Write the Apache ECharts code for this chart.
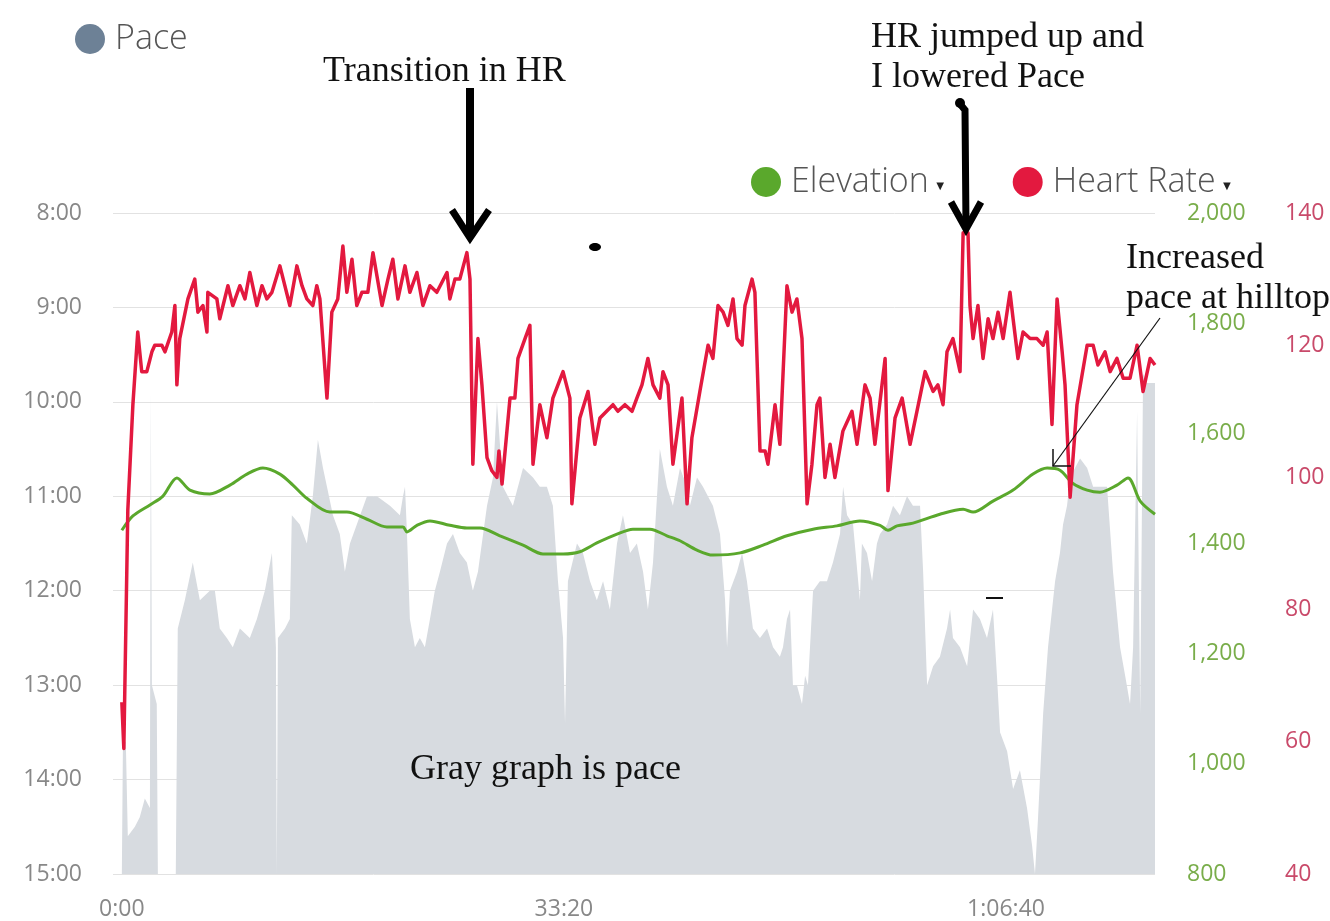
<!DOCTYPE html>
<html>
<head>
<meta charset="utf-8">
<title>Pace, Elevation and Heart Rate</title>
<script src="https://cdn.jsdelivr.net/npm/echarts@6/dist/echarts.min.js"></script>
<style>
  html, body { margin: 0; padding: 0; background: #fff; }
  #chart { width: 1330px; height: 921px; }
</style>
</head>
<body>
<div id="chart"></div>
<script>
// time in seconds
const hrData = [
  [0,66],[9,59],[27,95],[50,111],[72,122],[90,116],[113,116],[136,119],[149,120],[181,120],
  [195,119],[226,122],[240,126],[249,114],[262,121],[299,127],[330,130],[344,125],[367,126],[385,122],
  [389,128],[430,127],[443,124],[480,129],[502,126],[534,129],[557,127],[579,131],[611,126],[634,129],
  [656,127],[679,128],[715,132],[760,126],[792,132],[815,129],[837,127],[864,126],[882,129],[896,127],
  [928,112],[950,125],[977,127],[1000,135],[1018,128],[1041,133],[1063,126],[1086,128],[1113,128],[1136,134],
  [1177,126],[1204,130],[1226,133],[1249,127],[1281,132],[1303,128],[1335,131],[1362,126],[1394,129],[1425,128],
  [1471,131],[1484,127],[1507,130],[1529,130],[1561,134],[1575,130],
  [1588,102],[1611,121],[1629,114],[1652,103],[1674,101],[1697,100],[1706,104],[1720,99],[1756,112],[1778,112],
  [1792,118],[1824,121],[1846,123],[1860,102],[1891,111],[1923,106],[1950,112],[1996,116],[2027,112],[2036,96],
  [2072,109],[2109,113],[2140,105],[2163,109],[2222,111],[2244,110],[2276,111],[2308,110],[2330,112],[2353,114],
  [2380,118],[2403,114],[2434,112],[2448,116],[2471,114],[2493,102],[2534,112],[2557,96],[2579,106],[2615,113],
  [2652,120],[2674,118],[2697,126],[2720,125],[2742,123],[2765,127],[2783,121],[2806,120],[2819,126],[2851,130],
  [2864,128],[2887,104],[2910,104],[2923,102],[2955,111],[2977,105],[3009,129],[3032,125],[3054,127],[3077,121],
  [3100,96],[3122,102],[3145,111],
  [3158,112],[3181,100],[3204,105],[3226,100],[3262,107],[3303,110],[3326,105],[3362,114],[3385,112],[3407,105],
  [3453,118],[3466,98],[3498,109],[3530,112],[3566,105],[3597,110],[3634,116],[3670,113],[3692,114],[3715,111],
  [3733,119],[3760,121],[3792,116],[3806,137],[3828,137],[3837,126],[3851,121],[3873,126],[3896,118],[3919,124],
  [3941,121],[3964,125],[3987,121],[4018,128],[4032,124],[4054,118],[4077,122],[4109,121],[4140,121],[4168,120],
  [4186,122],[4208,108],[4231,127],[4254,119],[4267,114],[4290,97],[4321,111],[4367,120],[4394,120],[4416,117],
  [4448,119],[4471,116],[4502,118],[4530,115],[4561,115],[4593,120],[4620,113],[4652,118],[4674,117]
];

const elevationData = [
  [0,1424],[50,1450],[127,1470],[186,1486],[249,1519],[308,1497],[398,1490],[489,1506],[566,1526],[638,1537],
  [715,1526],[774,1506],[837,1482],[941,1457],[1018,1457],[1109,1444],[1199,1430],[1272,1430],[1290,1421],[1335,1433],
  [1394,1441],[1484,1433],[1561,1428],[1620,1428],[1710,1414],[1815,1397],[1905,1381],[1996,1381],[2072,1385],[2149,1401],
  [2240,1417],[2312,1426],[2389,1426],[2466,1414],[2525,1405],[2602,1388],[2674,1379],[2797,1383],[2901,1397],[3009,1414],
  [3127,1426],[3235,1432],[3339,1441],[3430,1433],[3466,1424],[3507,1432],[3579,1437],[3701,1453],[3806,1462],[3851,1457],
  [3941,1477],[4032,1497],[4122,1526],[4186,1537],[4244,1533],[4303,1509],[4367,1497],[4425,1493],[4502,1506],[4552,1519],
  [4607,1477],[4674,1453]
];

// pace in minutes per mile
const paceData = [
  [0,15.0],[5,13.6],[18,13.6],[27,14.6],[59,14.5],[81,14.4],[104,14.2],[127,14.3],[131,9.9],[136,13.0],
  [158,13.2],[163,15.0],[244,15.0],[253,12.4],[285,12.1],[321,11.7],[353,12.1],[398,12.0],[421,12.0],[443,12.4],
  [475,12.5],[502,12.6],[534,12.4],[579,12.5],[611,12.3],[647,12.0],[679,11.6],[697,12.6],[701,15.0],[706,12.5],
  [738,12.4],[760,12.3],[769,11.2],[805,11.3],[837,11.5],[864,11.0],[887,10.4],[910,10.7],[928,10.9],[955,11.2],
  [986,11.4],[1009,11.8],[1032,11.5],[1063,11.3],[1109,11.0],[1154,11.0],[1213,11.1],[1258,11.2],[1272,11.0],[1281,10.9],
  [1290,11.4],[1303,12.3],[1326,12.6],[1348,12.5],[1371,12.6],[1394,12.3],[1416,12.0],[1439,11.8],[1471,11.5],[1498,11.4],
  [1529,11.6],[1561,11.7],[1588,12.0],[1611,11.8],[1652,11.1],[1679,10.8],[1697,10.0],[1724,10.9],[1769,11.1],[1815,10.7],
  [1860,10.8],[1891,10.9],[1923,10.9],[1950,11.1],[1973,11.9],[1996,12.5],[2005,13.4],[2018,11.9],[2059,11.5],[2086,11.6],
  [2118,11.9],[2149,12.1],[2177,11.9],[2208,12.2],[2240,11.5],[2267,11.2],[2299,11.6],[2330,11.5],[2358,11.8],[2380,12.2],
  [2403,11.7],[2434,10.5],[2466,10.9],[2493,11.1],[2525,10.7],[2557,10.9],[2570,11.1],[2602,10.8],[2629,10.9],[2674,11.1],
  [2706,11.4],[2729,12.1],[2738,12.6],[2751,12.0],[2783,11.8],[2806,11.6],[2828,11.9],[2855,12.4],[2887,12.5],[2919,12.4],
  [2946,12.6],[2977,12.7],[2991,12.6],[3009,12.3],[3023,12.2],[3036,13.0],[3054,13.0],[3077,13.2],[3091,12.9],[3104,13.0],
  [3127,12.0],[3158,11.9],[3190,11.9],[3217,11.7],[3249,11.4],[3263,10.9],[3281,11.2],[3308,11.3],[3339,12.1],[3348,11.5],
  [3371,11.6],[3394,11.9],[3416,11.5],[3430,11.4],[3462,11.3],[3489,11.1],[3520,11.2],[3552,11.0],[3579,11.1],[3611,11.1],
  [3625,11.8],[3643,13.0],[3670,12.8],[3701,12.7],[3733,12.4],[3747,12.2],[3760,12.5],[3792,12.6],[3824,12.8],[3851,12.2],
  [3882,12.3],[3914,12.5],[3941,12.2],[3959,12.9],[3973,13.5],[4005,13.7],[4032,14.1],[4063,13.9],[4095,14.3],[4118,14.7],
  [4131,15.0],[4145,14.4],[4168,13.3],[4190,12.6],[4222,11.9],[4244,11.6],[4258,11.3],[4276,11.1],[4290,10.8],[4312,10.7],
  [4335,10.6],[4367,10.7],[4394,10.9],[4425,10.9],[4457,10.9],[4484,11.8],[4516,12.6],[4539,12.9],[4561,13.2],[4575,12.6],
  [4593,10.1],[4607,13.3],[4620,9.7],[4638,9.8],[4674,9.8]
];

const timeTicks = [0, 2000, 4000];

function fmtTime(s) {
  const h = Math.floor(s / 3600);
  const m = Math.floor((s % 3600) / 60);
  const sec = String(s % 60).padStart(2, '0');
  return h > 0 ? h + ':' + String(m).padStart(2, '0') + ':' + sec : m + ':' + sec;
}

const labelFont = 'Open Sans';
const noteFont = '36px "Liberation Serif", "Times New Roman", serif';

const chart = echarts.init(document.getElementById('chart'));
chart.setOption({
  animation: false,
  backgroundColor: '#fff',
  grid: { left: 113, right: 175, top: 213, bottom: 45 },
  legend: [
    {
      data: ['Pace'],
      left: 70, top: 17,
      icon: 'circle', itemWidth: 40, itemHeight: 30,
      textStyle: { fontSize: 34, fontFamily: labelFont, fontWeight: 300, color: '#555' }
    },
    {
      data: ['Elevation', 'Heart Rate'],
      left: 746, top: 160,
      icon: 'circle', itemWidth: 40, itemHeight: 30, itemGap: 66,
      formatter: n => n + '{t|▼}',
      textStyle: {
        fontSize: 34, fontFamily: labelFont, fontWeight: 300, color: '#555',
        rich: { t: { fontSize: 13, color: '#222', padding: [8, 0, 0, 5] } }
      }
    }
  ],
  xAxis: {
    type: 'value', min: -40, max: 4674,
    axisLine: { show: false }, axisTick: { show: false }, splitLine: { show: false },
    axisLabel: {
      customValues: timeTicks, formatter: fmtTime,
      color: '#888', fontSize: 23, fontFamily: labelFont, margin: 24
    }
  },
  yAxis: [
    {
      type: 'value', min: 8, max: 15, interval: 1, inverse: true, position: 'left',
      axisLine: { show: false }, axisTick: { show: false },
      axisLabel: { formatter: v => v + ':00', color: '#888', fontSize: 23, fontFamily: labelFont, margin: 31 },
      splitLine: { lineStyle: { color: '#e2e2e2', width: 1 } }
    },
    {
      type: 'value', min: 800, max: 2000, interval: 200, position: 'right',
      axisLine: { show: false }, axisTick: { show: false }, splitLine: { show: false },
      axisLabel: { formatter: v => v.toLocaleString('en-US'), color: '#79ad4a', fontSize: 23, fontFamily: labelFont, margin: 32 }
    },
    {
      type: 'value', min: 40, max: 140, interval: 20, position: 'right',
      axisLine: { show: false }, axisTick: { show: false }, splitLine: { show: false },
      axisLabel: { color: '#c94a6a', fontSize: 23, fontFamily: labelFont, margin: 130 }
    }
  ],
  series: [
    {
      name: 'Pace', type: 'line', yAxisIndex: 0, data: paceData,
      color: '#6d8196', showSymbol: false, symbol: 'none', z: 1,
      lineStyle: { width: 0 },
      areaStyle: { color: '#d7dbe0', opacity: 1, origin: 'end' }
    },
    {
      name: 'Elevation', type: 'line', yAxisIndex: 1, data: elevationData,
      color: '#5aa82c', showSymbol: false, symbol: 'none', smooth: 0.3, z: 3,
      lineStyle: { width: 3 }
    },
    {
      name: 'Heart Rate', type: 'line', yAxisIndex: 2, data: hrData,
      color: '#e3193f', showSymbol: false, symbol: 'none', z: 4,
      lineStyle: { width: 3.5, join: 'round' }
    }
  ],
  graphic: [
    // hand-drawn notes on top of the chart
    { type: 'text', z: 100, style: { text: 'Transition in HR', x: 323, y: 72, font: noteFont, fill: '#111', verticalAlign: 'middle' } },
    { type: 'text', z: 100, style: { text: 'HR jumped up and', x: 871, y: 38, font: noteFont, fill: '#111', verticalAlign: 'middle' } },
    { type: 'text', z: 100, style: { text: 'I lowered Pace', x: 871, y: 78, font: noteFont, fill: '#111', verticalAlign: 'middle' } },
    { type: 'text', z: 100, style: { text: 'Increased', x: 1126, y: 259, font: noteFont, fill: '#111', verticalAlign: 'middle' } },
    { type: 'text', z: 100, style: { text: 'pace at hilltop', x: 1126, y: 299, font: noteFont, fill: '#111', verticalAlign: 'middle' } },
    { type: 'text', z: 100, style: { text: 'Gray graph is pace', x: 410, y: 770, font: noteFont, fill: '#111', verticalAlign: 'middle' } },

    { type: 'line', z: 100, shape: { x1: 470, y1: 88, x2: 470, y2: 236 }, style: { stroke: '#000', lineWidth: 8 } },
    { type: 'polyline', z: 100, shape: { points: [[452, 210], [470, 238], [489, 210]] }, style: { stroke: '#000', lineWidth: 7, fill: null } },

    { type: 'circle', z: 100, shape: { cx: 960, cy: 103, r: 5 }, style: { fill: '#000' } },
    { type: 'polyline', z: 100, shape: { points: [[960, 104], [965, 110], [966, 226]] }, style: { stroke: '#000', lineWidth: 7, fill: null } },
    { type: 'polyline', z: 100, shape: { points: [[951, 202], [966, 229], [981, 202]] }, style: { stroke: '#000', lineWidth: 7, fill: null } },

    { type: 'line', z: 100, shape: { x1: 1160, y1: 318, x2: 1053, y2: 466 }, style: { stroke: '#111', lineWidth: 1.2 } },
    { type: 'polyline', z: 100, shape: { points: [[1053, 449], [1053, 466], [1071, 466]] }, style: { stroke: '#111', lineWidth: 1.5, fill: null } },

    { type: 'ellipse', z: 100, shape: { cx: 595, cy: 247, rx: 6, ry: 4 }, style: { fill: '#000' } },
    { type: 'line', z: 100, shape: { x1: 986, y1: 598, x2: 1003, y2: 598 }, style: { stroke: '#111', lineWidth: 2 } }
  ]
});
</script>
</body>
</html>
